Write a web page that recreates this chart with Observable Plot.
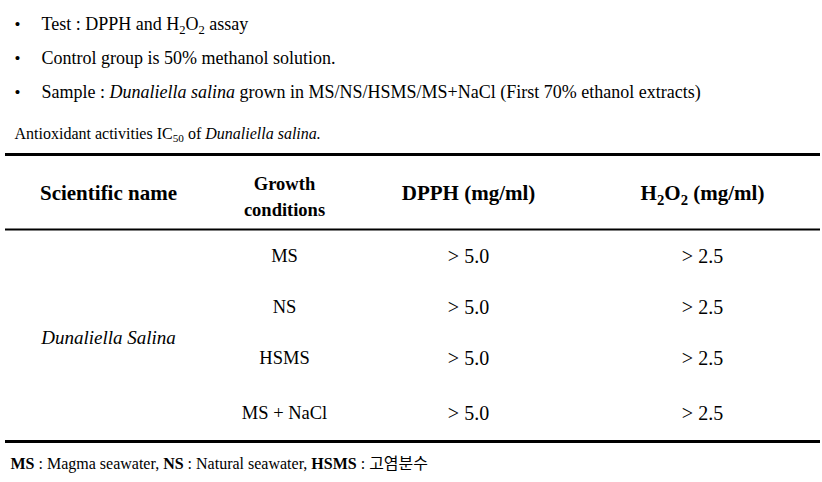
<!DOCTYPE html>
<html>
<head>
<meta charset="utf-8">
<script src="https://cdn.jsdelivr.net/npm/d3@7"></script>
<script src="https://cdn.jsdelivr.net/npm/@observablehq/plot@0.6"></script>
<style>
  html, body { margin: 0; padding: 0; background: #fff; }
  svg { display: block; }
</style>
</head>
<body>
<div id="chart"></div>
<script>
// ---- data ----
const bullets = [
  "Test : DPPH and H_2O_2 assay",
  "Control group is 50% methanol solution.",
  "Sample : *Dunaliella salina* grown in MS/NS/HSMS/MS+NaCl (First 70% ethanol extracts)"
];
const caption = "Antioxidant activities IC_{50} of *Dunaliella salina.*";
const headers = ["Scientific name", "Growth\nconditions", "DPPH (mg/ml)", "H_2O_2 (mg/ml)"];
const species = ["Dunaliella Salina"];
const conditions = ["MS", "NS", "HSMS", "MS + NaCl"];
const dpph = [5.0, 5.0, 5.0, 5.0];   // IC50 greater than
const h2o2 = [2.5, 2.5, 2.5, 2.5];   // IC50 greater than
const footnote = "**MS** : Magma seawater, **NS** : Natural seawater, **HSMS** : 고염분수";

// ---- layout ----
const W = 822, H = 482;
const font = "Liberation Serif";
const colX = [108, 284, 468, 702];
const rowY = [256, 307, 358, 413];
const bulletY = [24, 58, 92];
const bulletWordSpacing = [0.5, 1.5, 2.2];

const rows = conditions.map((c, i) => ({
  row: i, condition: c,
  dpph: "> " + dpph[i].toFixed(1),
  h2o2: "> " + h2o2[i].toFixed(1)
}));
const bulletRows = bullets.map((t, i) => ({i, t}));
const headerRows = headers.map((t, i) => ({i, t}));

const T = {fill: "#000", fontFamily: font};

const plot = Plot.plot({
  width: W, height: H,
  margin: 0,
  x: {type: "identity", axis: null},
  y: {type: "identity", axis: null},
  style: {background: "#fff", fontFamily: font, color: "#000"},
  marks: [
    // bullets
    Plot.text(bulletRows, {...T, x: 14, y: d => bulletY[d.i], text: () => "•", fontSize: 17, textAnchor: "start"}),
    Plot.text(bulletRows, {...T, x: 41, y: d => bulletY[d.i], text: "t", fontSize: 18, textAnchor: "start", ariaLabel: "bullets"}),
    // caption
    Plot.text([caption], {...T, x: 14, y: 133, text: d => d, fontSize: 16, textAnchor: "start"}),
    // rules
    Plot.ruleY([154], {x1: 5, x2: 820, stroke: "#000", strokeWidth: 3}),
    Plot.ruleY([229], {x1: 5, x2: 820, stroke: "#000", strokeWidth: 2}),
    Plot.ruleY([441], {x1: 5, x2: 820, stroke: "#000", strokeWidth: 3}),
    // header
    Plot.text(headerRows.filter(d => d.i !== 1), {...T, x: d => colX[d.i], y: 193, text: "t", fontSize: 21, fontWeight: "bold"}),
    Plot.text(headerRows.filter(d => d.i === 1), {...T, x: d => colX[d.i], y: 194, text: "t", fontSize: 18.5, fontWeight: "bold", lineHeight: 1.41}),
    // body
    Plot.text(species, {...T, x: colX[0], y: 337, text: d => d, fontSize: 19, fontStyle: "italic"}),
    Plot.text(rows, {...T, x: colX[1], y: d => rowY[d.row], text: "condition", fontSize: 18.5}),
    Plot.text(rows, {...T, x: colX[2], y: d => rowY[d.row], text: "dpph", fontSize: 20}),
    Plot.text(rows, {...T, x: colX[3], y: d => rowY[d.row], text: "h2o2", fontSize: 20}),
    // footnote
    Plot.text([footnote], {...T, x: 10, y: 463, text: d => d, fontSize: 16, textAnchor: "start"})
  ]
});

d3.select(plot).select('g[aria-label="bullets"]').selectAll("text")
  .style("word-spacing", (d, i) => bulletWordSpacing[i] + "px");

// rich text post-processing: **bold**, *italic*, _x / _{xx} subscripts, Hangul font
d3.select(plot).selectAll("text").each(function () {
  if (this.querySelector("tspan")) return;
  const s = this.textContent;
  if (!/[*_\uAC00-\uD7AF]/.test(s)) return;
  const parts = s.split(/(\*\*[^*]+\*\*|\*[^*]+\*|_\{[^}]+\}|_.|[\uAC00-\uD7AF]+)/g).filter(p => p !== "");
  const el = d3.select(this);
  el.text(null);
  let pendingUp = false;
  for (const p of parts) {
    const t = el.append("tspan");
    if (pendingUp) { t.attr("dy", "-0.21em"); pendingUp = false; }
    if (p.startsWith("**")) {
      t.attr("font-weight", "bold").text(p.slice(2, -2));
    } else if (p.startsWith("*")) {
      t.attr("font-style", "italic").text(p.slice(1, -1));
    } else if (p.startsWith("_")) {
      const sub = p.startsWith("_{") ? p.slice(2, -1) : p.slice(1);
      t.attr("font-size", "70%").attr("dy", "0.3em").text(sub);
      pendingUp = true;
    } else if (/[\uAC00-\uD7AF]/.test(p)) {
      t.attr("font-family", "Noto Sans CJK KR").text(p);
    } else {
      t.text(p);
    }
  }
});

document.getElementById("chart").append(plot);
</script>
</body>
</html>
